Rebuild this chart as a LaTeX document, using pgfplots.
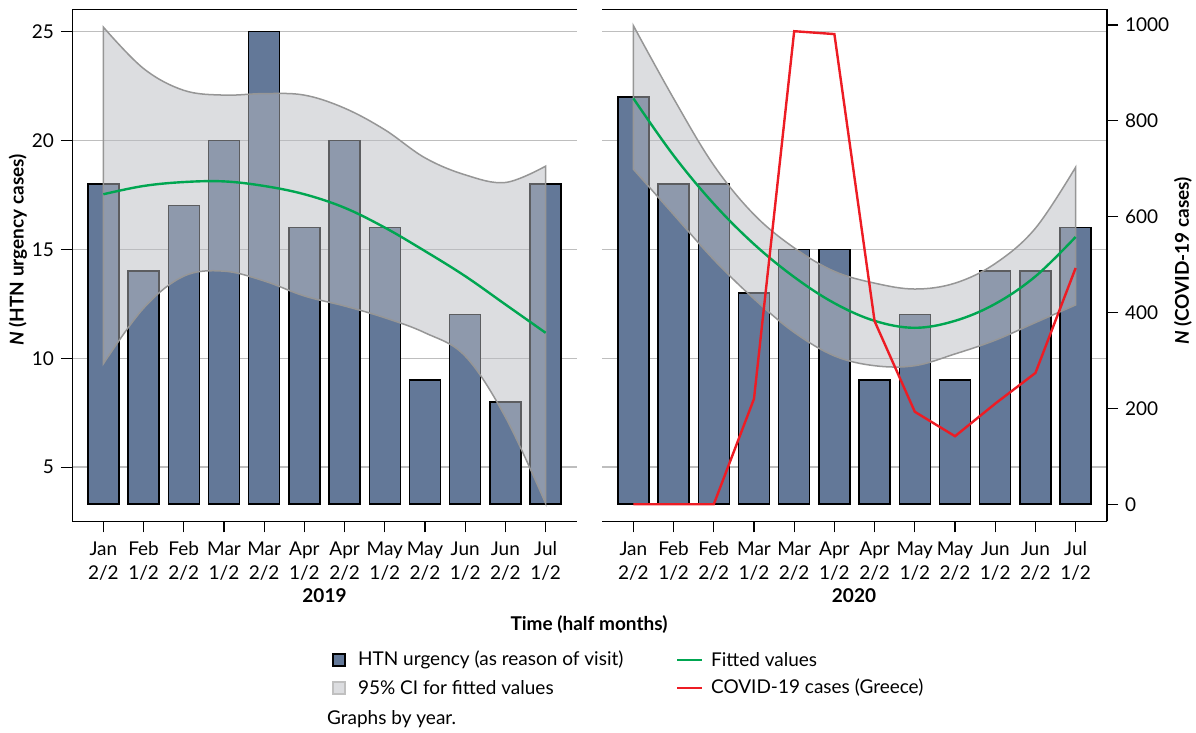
\documentclass[border=0pt]{standalone}
\usepackage{fontspec}
\setmainfont{Lato}
\usepackage{pgfplots}
\pgfplotsset{compat=1.18}
\usepgfplotslibrary{fillbetween}
\usepackage{pgfplotstable}

\definecolor{barblue}{RGB}{99,120,152}
\definecolor{cifill}{RGB}{185,187,193}
\definecolor{cibox}{RGB}{220,221,224}
\definecolor{ciedge}{RGB}{150,150,150}
\definecolor{gridgray}{RGB}{190,190,190}
\definecolor{fitgreen}{RGB}{0,166,81}
\definecolor{covidred}{RGB}{237,28,36}

% half months: Jan 2/2 ... Jul 1/2 at x = 0..11
\pgfplotstableread{
x n fit up lo
0 18 17.53 25.20 9.75
1 14 17.91 23.30 12.30
2 17 18.09 22.30 13.77
3 20 18.12 22.08 14.00
4 25 17.91 22.15 13.55
5 16 17.53 22.08 12.86
6 20 16.91 21.48 12.40
7 16 16.00 20.49 11.86
8 9 14.92 19.20 11.17
9 12 13.77 18.42 10.10
10 8 12.47 18.07 7.30
11 18 11.17 18.82 3.34
}\yrA

\pgfplotstableread{
x n fit up lo cov
0 22 21.93 25.27 18.68 0
1 18 19.31 21.93 16.60 0
2 18 17.09 18.86 14.53 0
3 13 15.24 16.60 12.73 220
4 15 13.73 15.07 11.19 987
5 15 12.53 13.99 10.11 981
6 9 11.72 13.45 9.66 382
7 12 11.40 13.18 9.66 193
8 9 11.72 13.45 10.20 142
9 14 12.50 14.35 10.83 210
10 14 13.76 15.97 11.64 274
11 16 15.57 18.77 12.45 493
}\yrB

% bars start at 3.315 on the left scale, so the left scale is shifted by it
\def\base{3.315}

\pgfplotsset{
  panel/.style={
    set layers,
    scale only axis, width=252.5pt, height=256pt, anchor=south west,
    xmin=-0.78, xmax=11.78, ymin=-0.805, ymax=22.695,
    axis line style={draw=none},
    xtick={0,...,11},
    xticklabels={Jan\\2/2,Feb\\1/2,Feb\\2/2,Mar\\1/2,Mar\\2/2,Apr\\1/2,Apr\\2/2,May\\1/2,May\\2/2,Jun\\1/2,Jun\\2/2,Jul\\1/2},
    x tick label style={align=center, font=\fontsize{9.5}{12}\selectfont, yshift=-1pt},
    y tick label style={font=\fontsize{9.5}{12}\selectfont},
    ytick={1.685,6.685,11.685,16.685,21.685},
    xtick pos=lower, ytick pos=left,
    tick align=outside, major tick length=5.5pt,
    tick style={black, line width=0.6pt},
    ymajorgrids, grid style={gridgray, line width=0.75pt},
  },
  % bars go on a layer under the CI band (which sits on "pre main")
  bars/.style={on layer=axis ticks, ybar, bar shift=0pt, bar width=0.77, fill=barblue, draw=black, line width=0.7pt},
  ci/.style={fill=cifill, fill opacity=0.5, draw=ciedge, line width=0.75pt},
  fit/.style={fitgreen, line width=1.2pt, smooth, tension=0.6, mark=none},
}

\begin{document}
\begin{tikzpicture}[font=\fontsize{9.5}{12}\selectfont]

% 2019
\begin{axis}[panel, at={(36pt,105.75pt)},
    yticklabels={5,10,15,20,25}]
  \addplot[bars] table[x=x, y expr=\thisrow{n}-\base] {\yrA};
  \addplot[draw=none, smooth, tension=0.6, name path=upA] table[x=x, y expr=\thisrow{up}-\base] {\yrA};
  \addplot[draw=none, smooth, tension=0.6, name path=loA] table[x=x, y expr=\thisrow{lo}-\base] {\yrA};
  \addplot[ci] fill between[of=upA and loA];
  \addplot[fit] table[x=x, y expr=\thisrow{fit}-\base] {\yrA};
  \draw[black, line width=0.6pt] (rel axis cs:1,1) -- (rel axis cs:0,1) -- (rel axis cs:0,0) -- (rel axis cs:1,0);
\end{axis}

% 2020
\begin{axis}[panel, at={(301pt,105.75pt)},
    yticklabels={}, ytick style={draw=none}]
  \addplot[bars] table[x=x, y expr=\thisrow{n}-\base] {\yrB};
  \addplot[draw=none, smooth, tension=0.6, name path=upB] table[x=x, y expr=\thisrow{up}-\base] {\yrB};
  \addplot[draw=none, smooth, tension=0.6, name path=loB] table[x=x, y expr=\thisrow{lo}-\base] {\yrB};
  \addplot[ci] fill between[of=upB and loB];
  \addplot[fit] table[x=x, y expr=\thisrow{fit}-\base] {\yrB};
  \draw[black, line width=0.6pt] (rel axis cs:0,1) -- (rel axis cs:1,1) -- (rel axis cs:1,0) -- (rel axis cs:0,0);
\end{axis}

% COVID-19 cases on the right scale
\begin{axis}[scale only axis, width=252.5pt, height=256pt, anchor=south west,
    at={(301pt,105.75pt)},
    xmin=-0.78, xmax=11.78, ymin=-35.9, ymax=1032.3,
    axis x line=none, axis y line*=right,
    axis line style={black, line width=0.6pt},
    ytick={0,200,400,600,800,1000},
    yticklabels={0,200,400,600,800,1000},
    y tick label style={font=\fontsize{9.5}{12}\selectfont},
    tick align=outside, major tick length=5.5pt,
    tick style={black, line width=0.6pt}]
  \addplot[covidred, line width=1.2pt, mark=none] table[x=x, y=cov] {\yrB};
\end{axis}

% labels
\node[rotate=90, font=\fontsize{9.5}{12}\selectfont\bfseries] at (9pt,241.5pt) {\textit{N} (HTN urgency cases)};
\node[rotate=90, font=\fontsize{9.5}{12}\selectfont\bfseries] at (591.5pt,236pt) {\textit{N} (COVID-19 cases)};
\node[font=\fontsize{9.5}{12}\selectfont\bfseries] at (162.25pt,68.5pt) {2019};
\node[font=\fontsize{9.5}{12}\selectfont\bfseries] at (427pt,68.5pt) {2020};
\node[font=\fontsize{9.5}{12}\selectfont\bfseries] at (294.5pt,54pt) {Time (half months)};

% legend
\draw[black, line width=0.6pt, fill=barblue] (166.5pt,33.5pt) rectangle (172.5pt,39.5pt);
\node[anchor=west] at (175.5pt,36.5pt) {HTN urgency (as reason of visit)};
\draw[ciedge!60, line width=0.6pt, fill=cibox] (166.5pt,19.5pt) rectangle (172.5pt,25.5pt);
\node[anchor=west] at (175.5pt,22.5pt) {95\% CI for fitted values};
\draw[fitgreen, line width=1.2pt] (338.5pt,36.5pt) -- (351pt,36.5pt);
\node[anchor=west] at (352pt,36.5pt) {Fitted values};
\draw[covidred, line width=1.2pt] (338.5pt,22.5pt) -- (351pt,22.5pt);
\node[anchor=west] at (352pt,22.5pt) {COVID-19 cases (Greece)};
\node[anchor=west] at (160pt,7pt) {Graphs by year.};

\pgfresetboundingbox
\useasboundingbox (0,0) rectangle (598pt,366.5pt);
\end{tikzpicture}
\end{document}
